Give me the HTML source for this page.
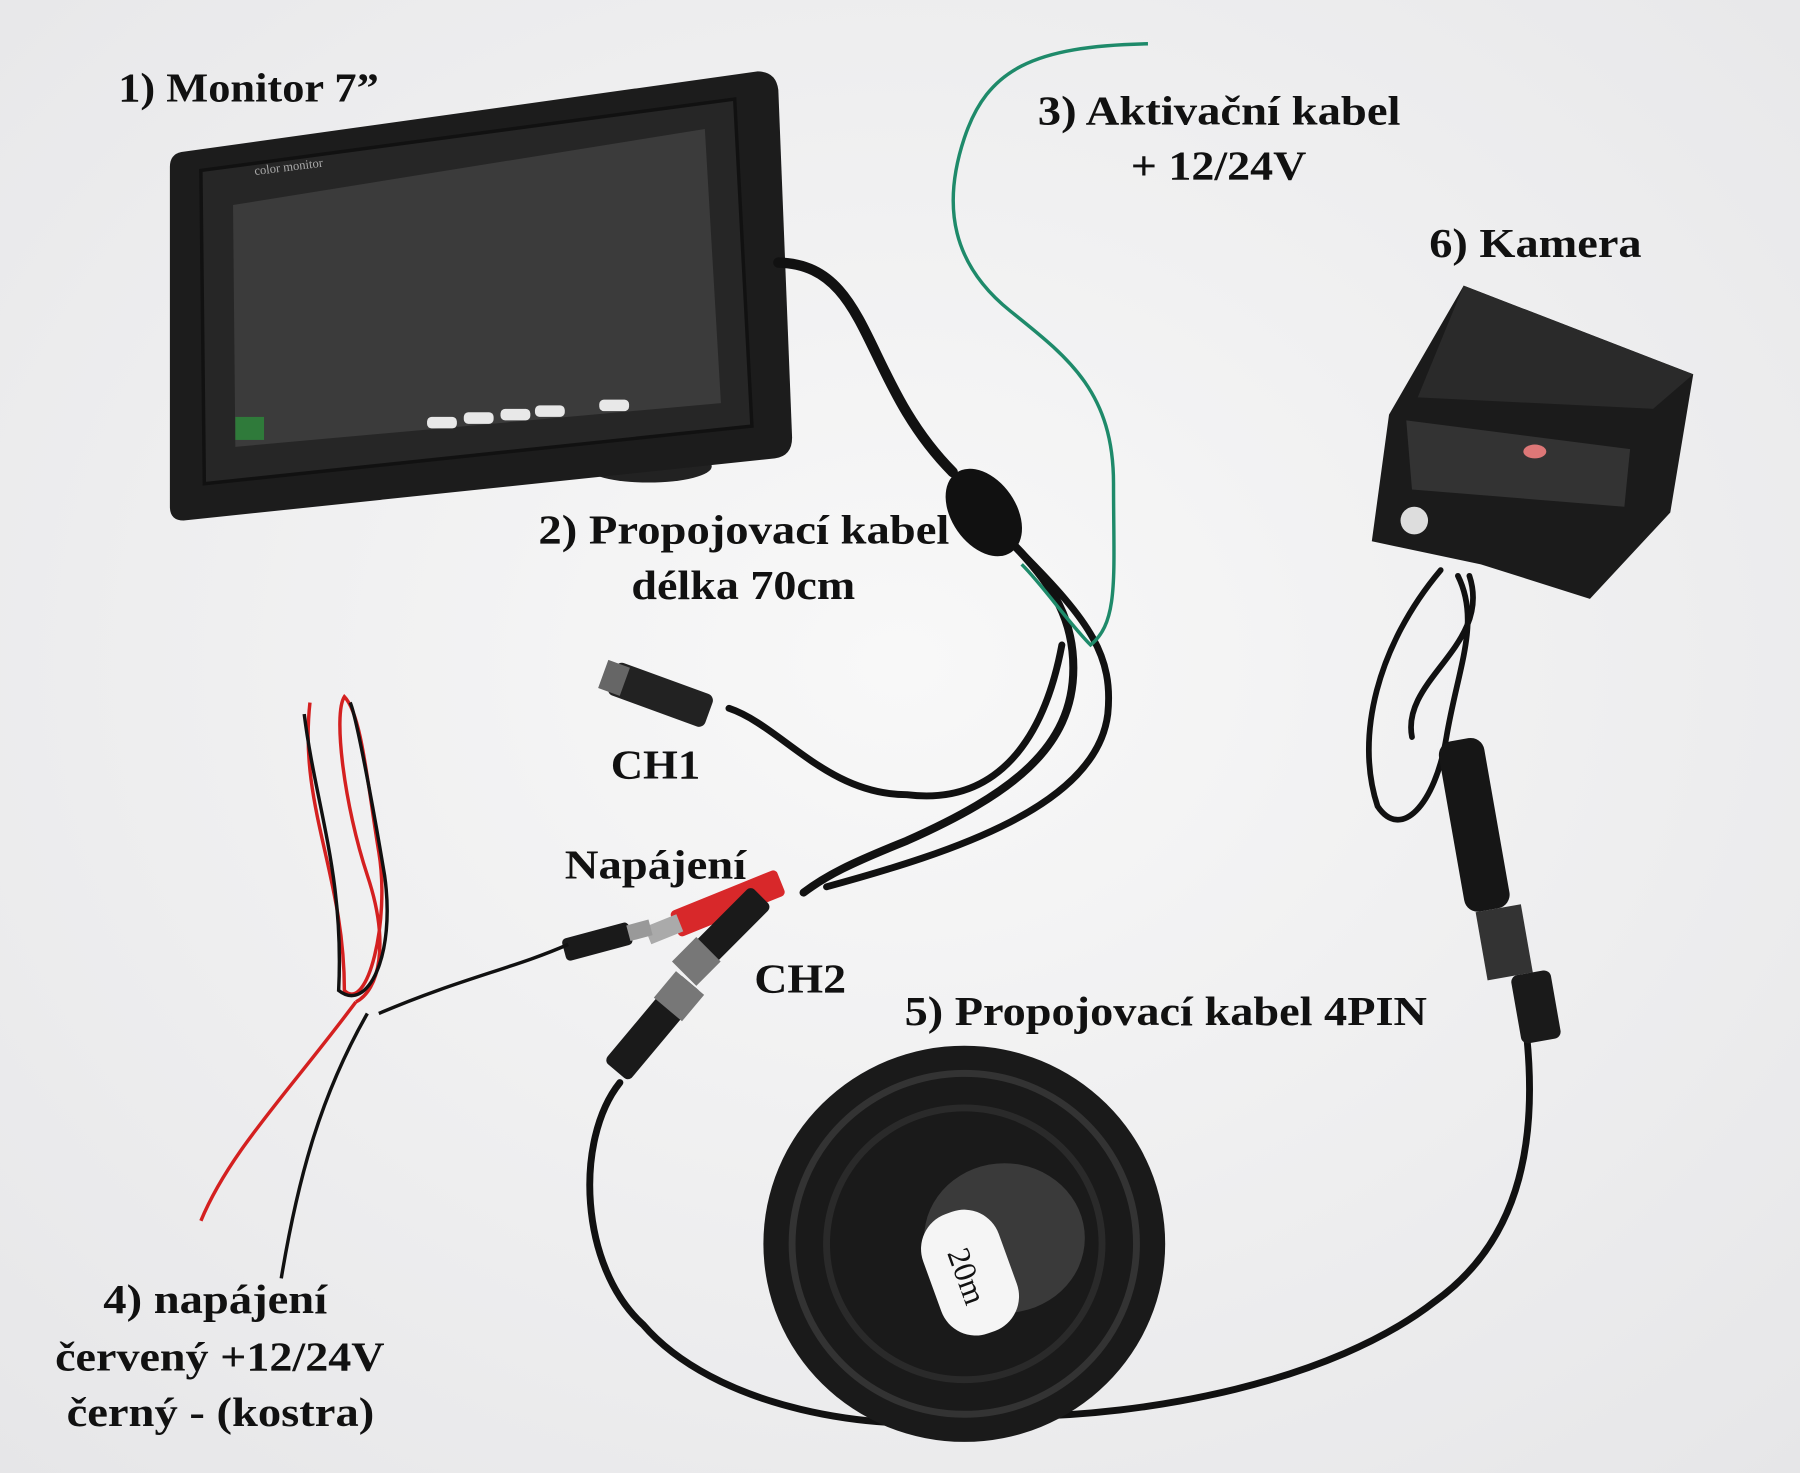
<!DOCTYPE html>
<html><head><meta charset="utf-8"><style>
html,body{margin:0;padding:0;background:#f3f3f3;}
svg{display:block}
text{font-family:"Liberation Serif",serif;font-weight:bold;fill:#111;}
</style></head><body>
<svg width="1800" height="1473" viewBox="0 0 1568 1279" preserveAspectRatio="none" xmlns="http://www.w3.org/2000/svg">
<defs>
<radialGradient id="bg" cx="50%" cy="45%" r="75%"><stop offset="0" stop-color="#f8f8f8"/><stop offset="1" stop-color="#e6e6e8"/></radialGradient>
</defs>
<rect width="1568" height="1279" fill="url(#bg)"/>
<ellipse cx="565" cy="405" rx="55" ry="14" fill="#222"/>
<path d="M158,132 L660,62 Q676,62 678,78 L690,380 Q690,396 675,398 L160,452 Q148,452 148,440 L148,145 Q148,134 158,132Z" fill="#1c1c1c"/>
<path d="M175,148 L640,86 L655,370 L178,420Z" fill="#262626" stroke="#111" stroke-width="3"/>
<path d="M203,178 L614,112 L628,350 L205,388Z" fill="#3b3b3b"/>
<text x="222" y="152" font-size="11" style="font-weight:normal;fill:#aaa" transform="rotate(-7 222 152)">color monitor</text>
<rect x="205" y="362" width="25" height="20" fill="#2f7a3a"/>
<g fill="#e8e8e8"><rect x="372" y="362" width="26" height="10" rx="4"/><rect x="404" y="358" width="26" height="10" rx="4"/><rect x="436" y="355" width="26" height="10" rx="4"/><rect x="466" y="352" width="26" height="10" rx="4"/><rect x="522" y="347" width="26" height="10" rx="4"/></g>
<g fill="none" stroke="#111" stroke-linecap="round">
<path d="M678,228 C760,230 750,330 830,410" stroke-width="9"/>
<path d="M880,470 C920,510 935,540 935,580 C935,650 880,690 790,730 C740,750 720,760 700,775" stroke-width="7"/>
<path d="M890,480 C950,540 970,570 965,620 C955,700 830,740 720,770" stroke-width="6"/>
<path d="M925,560 C910,640 870,700 790,690 C720,690 680,630 635,615" stroke-width="6"/>
<path d="M540,940 C500,990 505,1100 560,1150 C620,1220 760,1250 880,1230" stroke-width="6"/>
<path d="M1330,900 C1340,1000 1320,1080 1250,1130 C1160,1200 1000,1230 880,1230" stroke-width="6"/>
<path d="M1255,495 C1200,560 1180,640 1200,700 C1220,730 1250,700 1260,640 C1270,580 1290,540 1270,500" stroke-width="5"/>
<path d="M1280,500 C1300,560 1220,590 1230,640" stroke-width="5"/>
</g>
<ellipse cx="857" cy="445" rx="28" ry="42" fill="#111" transform="rotate(-35 857 445)"/>
<path d="M1000,38 C900,40 860,60 840,120 C820,180 830,230 880,270 C930,310 970,340 970,420 C970,500 975,540 950,560 C930,540 910,510 890,490" fill="none" stroke="#1e8a6a" stroke-width="3"/>
<g transform="rotate(20 580 605)"><rect x="530" y="590" width="90" height="30" rx="6" fill="#222"/><rect x="522" y="592" width="20" height="26" fill="#666"/></g>
<g transform="rotate(-22 620 790)"><rect x="585" y="778" width="100" height="24" rx="4" fill="#d8282a"/><rect x="560" y="782" width="30" height="16" fill="#aaa"/></g>
<g transform="rotate(-15 530 815)"><rect x="490" y="805" width="60" height="20" rx="4" fill="#1a1a1a"/><rect x="548" y="808" width="20" height="14" fill="#999"/></g>
<g transform="rotate(-45 620 820)"><rect x="590" y="808" width="90" height="26" rx="5" fill="#1a1a1a"/><rect x="585" y="806" width="30" height="30" fill="#777"/></g>
<g transform="rotate(-50 565 895)"><rect x="520" y="882" width="100" height="28" rx="5" fill="#1a1a1a"/><rect x="590" y="880" width="30" height="32" fill="#777"/></g>
<g fill="none" stroke-width="3">
<path d="M270,610 C260,700 300,760 300,860 C320,880 340,800 330,740 C320,680 315,620 300,605 C290,620 300,700 320,760 C340,820 330,860 310,870" stroke="#d42020"/>
<path d="M265,620 C275,700 300,760 295,860 C320,880 345,830 335,760 C325,700 310,620 305,610" stroke="#111"/>
<path d="M310,870 C250,950 200,1000 175,1060" stroke="#d42020"/>
<path d="M320,880 C280,950 260,1020 245,1110" stroke="#111"/>
<path d="M330,880 C400,850 450,840 495,820" stroke="#111"/>
</g>
<ellipse cx="840" cy="1080" rx="175" ry="172" fill="#1a1a1a"/>
<ellipse cx="840" cy="1080" rx="150" ry="148" fill="none" stroke="#333" stroke-width="6"/>
<ellipse cx="840" cy="1080" rx="120" ry="118" fill="none" stroke="#2a2a2a" stroke-width="6"/>
<ellipse cx="875" cy="1075" rx="70" ry="65" fill="#3a3a3a"/>
<g transform="rotate(70 845 1105)"><rect x="790" y="1070" width="110" height="70" rx="32" fill="#f5f5f5"/><text x="822" y="1118" font-size="28" style="font-weight:normal">20m</text></g>
<path d="M1275,248 L1475,325 L1455,445 L1385,520 L1290,490 L1195,470 L1210,360Z" fill="#1b1b1b"/>
<path d="M1275,248 L1475,325 L1440,355 L1235,345Z" fill="#2a2a2a"/>
<path d="M1225,365 L1420,390 L1415,440 L1230,425Z" fill="#333"/>
<circle cx="1232" cy="452" r="12" fill="#ddd"/>
<ellipse cx="1337" cy="392" rx="10" ry="6" fill="#d77"/>
<g transform="rotate(-10 1295 760)"><rect x="1272" y="640" width="40" height="150" rx="12" fill="#161616"/><rect x="1280" y="790" width="40" height="60" fill="#333"/><rect x="1300" y="850" width="35" height="60" rx="6" fill="#1a1a1a"/></g>
<g font-size="36">
<text x="103" y="88" textLength="227" lengthAdjust="spacingAndGlyphs">1) Monitor 7”</text>
<text x="904" y="108" textLength="316" lengthAdjust="spacingAndGlyphs">3) Aktivační kabel</text>
<text x="985" y="156" textLength="153" lengthAdjust="spacingAndGlyphs">+ 12/24V</text>
<text x="1245" y="223" textLength="185" lengthAdjust="spacingAndGlyphs">6) Kamera</text>
<text x="469" y="472" textLength="358" lengthAdjust="spacingAndGlyphs">2) Propojovací kabel</text>
<text x="550" y="520" textLength="195" lengthAdjust="spacingAndGlyphs">délka 70cm</text>
<text x="532" y="676" textLength="78" lengthAdjust="spacingAndGlyphs">CH1</text>
<text x="492" y="763" textLength="158" lengthAdjust="spacingAndGlyphs">Napájení</text>
<text x="657" y="862" textLength="80" lengthAdjust="spacingAndGlyphs">CH2</text>
<text x="788" y="890" textLength="455" lengthAdjust="spacingAndGlyphs">5) Propojovací kabel 4PIN</text>
<text x="90" y="1140" textLength="195" lengthAdjust="spacingAndGlyphs">4) napájení</text>
<text x="48" y="1190" textLength="287" lengthAdjust="spacingAndGlyphs">červený +12/24V</text>
<text x="58" y="1238" textLength="268" lengthAdjust="spacingAndGlyphs">černý - (kostra)</text>
</g>
</svg>
</body></html>
